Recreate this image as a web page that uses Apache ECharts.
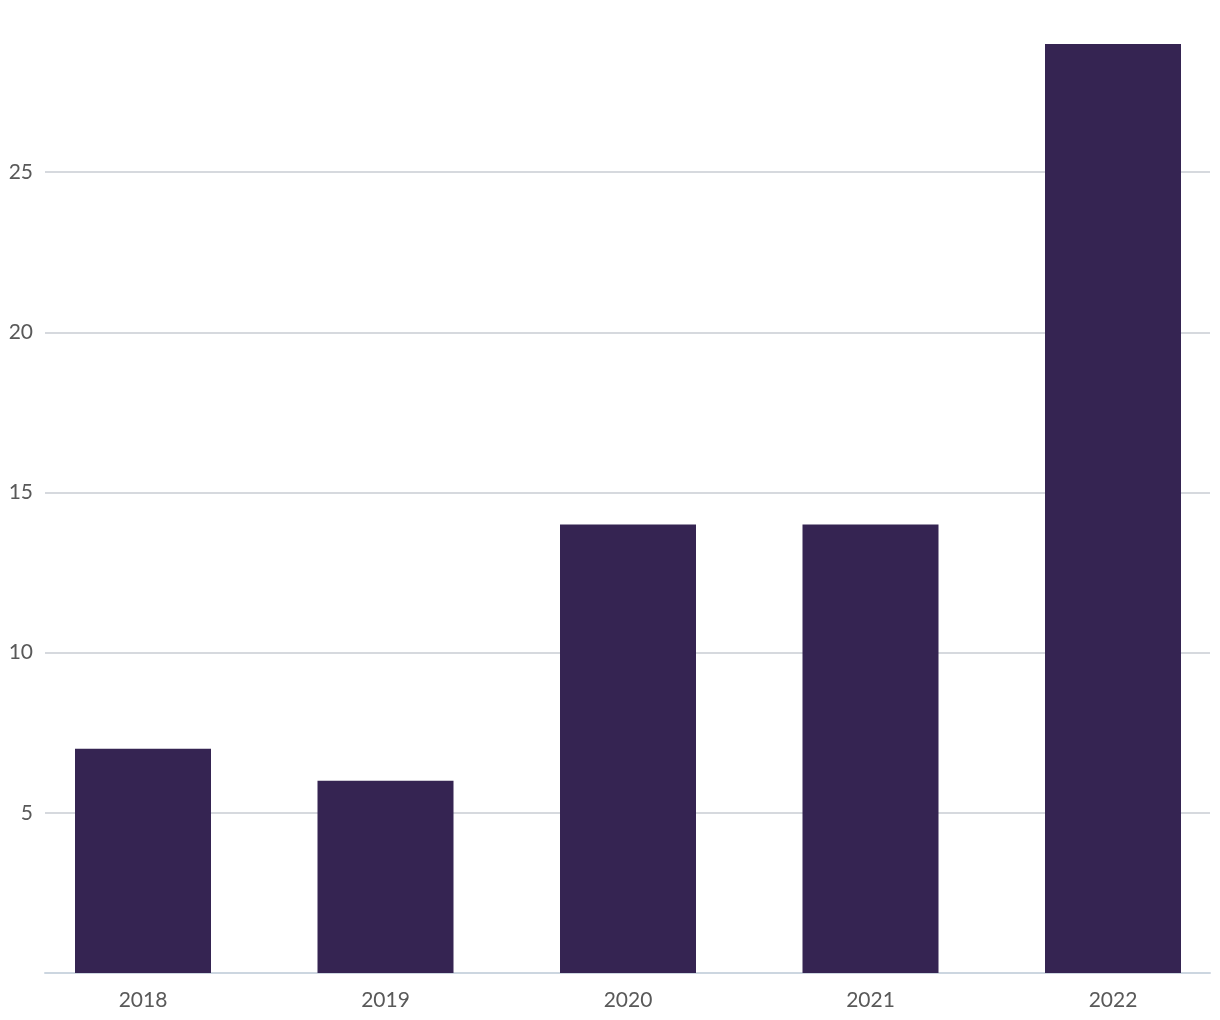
<!DOCTYPE html>
<html>
<head>
<meta charset="utf-8">
<script src="https://cdn.jsdelivr.net/npm/echarts@6/dist/echarts.min.js"></script>
<style>html,body{margin:0;padding:0;background:#fff}#c{width:1220px;height:1020px}</style>
</head>
<body>
<div id="c"></div>
<script>
const categories = ['2018', '2019', '2020', '2021', '2022'];
const values = [7, 6, 14, 14, 29];
const yTicks = [5, 10, 15, 20, 25];

const chart = echarts.init(document.getElementById('c'));
const font = 'Lato, "Open Sans", sans-serif';
chart.setOption({
  animation: false,
  grid: [
    { left: 45, right: 10, top: 12, bottom: 47 },
    { left: 143, right: 107, top: 12, bottom: 47 }
  ],
  xAxis: [
    { type: 'category', gridIndex: 0, data: categories,
      axisLine: { show: true, lineStyle: { color: '#ccd6e0', width: 2 } },
      axisTick: { show: false }, axisLabel: { show: false }, splitLine: { show: false } },
    { type: 'category', gridIndex: 1, data: categories, boundaryGap: false,
      axisLine: { show: false }, axisTick: { show: false }, splitLine: { show: false },
      axisLabel: { color: '#595959', fontSize: 21, fontFamily: font, margin: 17 } }
  ],
  yAxis: [
    { type: 'value', gridIndex: 0, min: 0, max: 30, interval: 5,
      axisLine: { show: false }, axisTick: { show: false },
      axisLabel: { color: '#595959', fontSize: 21, fontFamily: font, margin: 12,
        formatter: v => (yTicks.indexOf(v) >= 0 ? String(v) : '') },
      splitLine: { show: true, showMinLine: false, showMaxLine: false,
        lineStyle: { color: '#c8cdd3', width: 1.5 } } },
    { type: 'value', gridIndex: 1, min: 0, max: 30, interval: 5, show: false,
      splitLine: { show: false } }
  ],
  series: [{
    type: 'bar', xAxisIndex: 1, yAxisIndex: 1, data: values,
    barWidth: 136, itemStyle: { color: '#352452' }, z: 3
  }]
});
</script>
</body>
</html>
